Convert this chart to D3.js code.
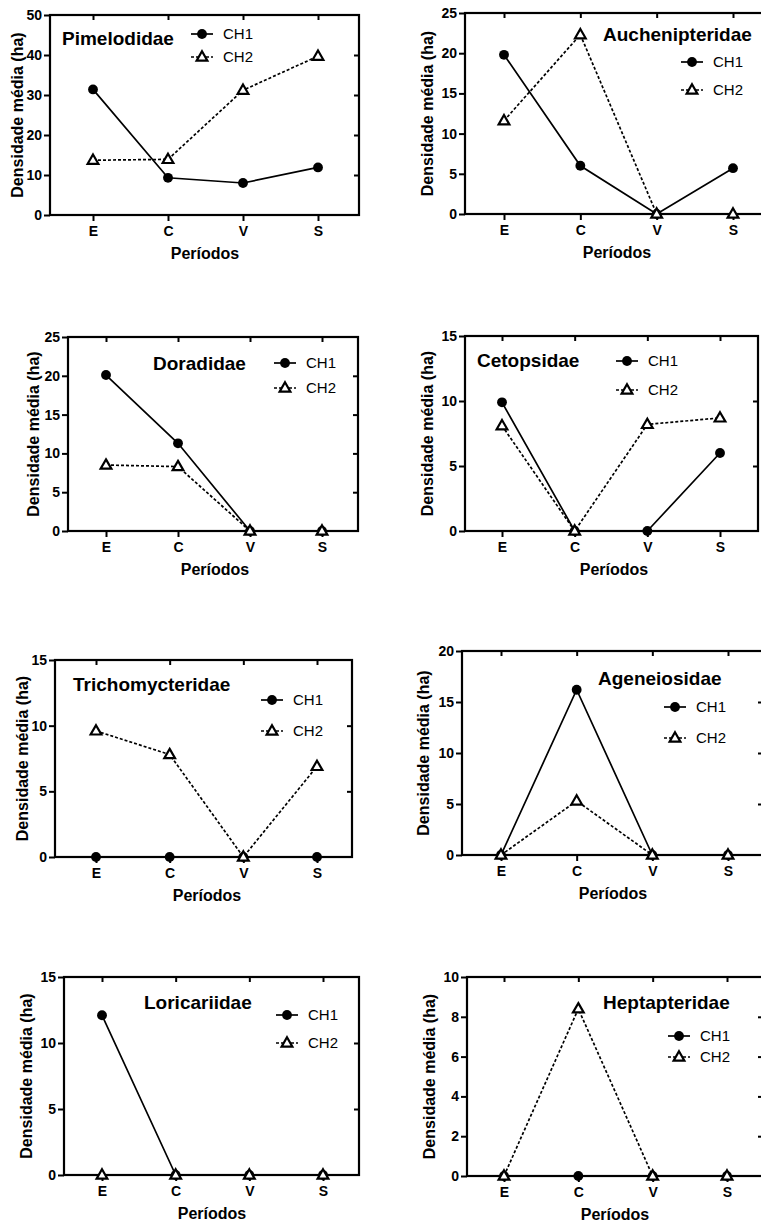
<!DOCTYPE html>
<html>
<head>
<meta charset="utf-8">
<script src="https://cdn.jsdelivr.net/npm/d3@7"></script>
<style>
  html, body { margin: 0; padding: 0; background: #fff; }
  svg { display: block; font-family: "Liberation Sans", Arial, sans-serif; }
</style>
</head>
<body>
<script>
// Mean density (per ha) of catfish families by period, two sampling channels
const periods = ["E", "C", "V", "S"];
const families = ["Pimelodidae", "Auchenipteridae", "Doradidae", "Cetopsidae",
                  "Trichomycteridae", "Ageneiosidae", "Loricariidae", "Heptapteridae"];
const seriesNames = ["CH1", "CH2"];
const ch1 = [
  [31.4, 9.3, 8.0, 11.9],
  [19.8, 6.0, 0, 5.7],
  [20.1, 11.3, 0, 0],
  [9.9, 0, 0, 6.0],
  [0, 0, 0, 0],
  [0, 16.2, 0, 0],
  [12.1, 0, 0, 0],
  [0, 0, 0, 0]
];
const ch2 = [
  [13.7, 13.9, 31.2, 39.7],
  [11.6, 22.3, 0, 0],
  [8.5, 8.3, 0, 0],
  [8.1, 0, 8.2, 8.7],
  [9.6, 7.8, 0, 6.9],
  [0, 5.3, 0, 0],
  [0, 0, 0, 0],
  [0, 8.4, 0, 0]
];
const yMax = [50, 25, 25, 15, 15, 20, 15, 10];
const yStep = [10, 5, 5, 5, 5, 5, 5, 2];
const yTitle = "Densidade média (ha)";
const xTitle = "Períodos";

// Panel geometry: frame edges, first/last category positions, label anchors
const layout = [
  {left: 50,  top: 15,  right: 359, bottom: 215,  e: 93,  s: 318, ylab: 17,  xlab: 205, tx: 62,  ty: 45,   lx: 202, ly1: 34,   ly2: 57},
  {left: 465, top: 13,  right: 776, bottom: 214,  e: 504, s: 733, ylab: 427, xlab: 617, tx: 603, ty: 41,   lx: 692, ly1: 62,   ly2: 90},
  {left: 68,  top: 337, right: 358, bottom: 531,  e: 106, s: 322, ylab: 33,  xlab: 215, tx: 153, ty: 370,  lx: 285, ly1: 363,  ly2: 388},
  {left: 465, top: 336, right: 758, bottom: 531,  e: 502, s: 720, ylab: 427, xlab: 614, tx: 477, ty: 367,  lx: 627, ly1: 361,  ly2: 390},
  {left: 55,  top: 660, right: 352, bottom: 857,  e: 96,  s: 317, ylab: 22,  xlab: 207, tx: 73,  ty: 691,  lx: 272, ly1: 700,  ly2: 731},
  {left: 462, top: 651, right: 763, bottom: 855,  e: 501, s: 728, ylab: 423, xlab: 613, tx: 598, ty: 685,  lx: 675, ly1: 707,  ly2: 738},
  {left: 64,  top: 977, right: 359, bottom: 1175, e: 102, s: 323, ylab: 26,  xlab: 212, tx: 144, ty: 1009, lx: 287, ly1: 1015, ly2: 1043},
  {left: 467, top: 977, right: 763, bottom: 1176, e: 504, s: 727, ylab: 429, xlab: 615, tx: 603, ty: 1009, lx: 679, ly1: 1036, ly2: 1057}
];

const svg = d3.select("body").append("svg").attr("width", 761).attr("height", 1224);

const circleSym = d3.symbol().type(d3.symbolCircle).size(76);
const triSym = d3.symbol().type(d3.symbolTriangle).size(50);
const dash = "3,2";

function drawMarker(sel, k, cx, cy) {
  if (k === 0) {
    sel.append("path").attr("d", circleSym()).attr("transform", `translate(${cx},${cy})`)
      .attr("fill", "#000");
  } else {
    sel.append("path").attr("d", triSym()).attr("transform", `translate(${cx},${cy + 0.5})`)
      .attr("fill", "#fff").attr("stroke", "#000").attr("stroke-width", 2.2);
  }
}

families.forEach((name, i) => {
  const L = layout[i];
  const x = d3.scalePoint().domain(periods).range([L.e, L.s]);
  const y = d3.scaleLinear().domain([0, yMax[i]]).range([L.bottom, L.top]);
  const ticks = d3.range(0, yMax[i] + 1e-9, yStep[i]);
  const g = svg.append("g");

  // frame
  g.append("rect").attr("x", L.left).attr("y", L.top)
    .attr("width", L.right - L.left).attr("height", L.bottom - L.top)
    .attr("fill", "none").attr("stroke", "#000").attr("stroke-width", 2.2);

  // left axis (outward ticks with labels)
  const ay = g.append("g").attr("transform", `translate(${L.left},0)`)
    .call(d3.axisLeft(y).tickValues(ticks).tickSize(6).tickPadding(2).tickSizeOuter(0));
  // bottom axis
  const ax = g.append("g").attr("transform", `translate(0,${L.bottom})`)
    .call(d3.axisBottom(x).tickSize(6).tickPadding(5).tickSizeOuter(0));
  // mirrored inner ticks on right and top
  const ar = g.append("g").attr("transform", `translate(${L.right},0)`)
    .call(d3.axisLeft(y).tickValues(ticks.slice(1, -1)).tickSize(5).tickFormat("").tickSizeOuter(0));
  const at = g.append("g").attr("transform", `translate(0,${L.top})`)
    .call(d3.axisTop(x).tickSize(-5).tickFormat("").tickSizeOuter(0));

  [ay, ax, ar, at].forEach(a => {
    a.select(".domain").remove();
    a.selectAll(".tick line").attr("stroke", "#000").attr("stroke-width", 2);
    a.selectAll(".tick text").attr("fill", "#000")
      .style("font-family", "'Liberation Sans', Arial, sans-serif")
      .style("font-weight", "bold").style("font-size", "14px");
  });

  // axis titles
  g.append("text")
    .attr("transform", `translate(${L.ylab},${(L.top + L.bottom) / 2}) rotate(-90)`)
    .attr("text-anchor", "middle").attr("dominant-baseline", "central")
    .style("font-weight", "bold").style("font-size", "16px").text(yTitle);
  g.append("text").attr("x", L.xlab).attr("y", L.bottom + 44)
    .attr("text-anchor", "middle")
    .style("font-weight", "bold").style("font-size", "16px").text(xTitle);

  // panel title
  g.append("text").attr("x", L.tx).attr("y", L.ty)
    .style("font-weight", "bold").style("font-size", "19px").text(name);

  // series
  const line = d3.line().x(d => x(d.p)).y(d => y(d.v));
  [ch1[i], ch2[i]].forEach((vals, k) => {
    const pts = periods.map((p, j) => ({p, v: vals[j]}));
    g.append("path").datum(pts).attr("d", line)
      .attr("fill", "none").attr("stroke", "#000").attr("stroke-width", 1.7)
      .attr("stroke-dasharray", k === 1 ? dash : null);
  });
  [ch1[i], ch2[i]].forEach((vals, k) => {
    periods.forEach((p, j) => drawMarker(g, k, x(p), y(vals[j])));
  });

  // legend
  [L.ly1, L.ly2].forEach((ly, k) => {
    g.append("line").attr("x1", L.lx - 11).attr("x2", L.lx + 11)
      .attr("y1", ly).attr("y2", ly)
      .attr("stroke", "#000").attr("stroke-width", 1.7)
      .attr("stroke-dasharray", k === 1 ? dash : null);
    drawMarker(g, k, L.lx, ly);
    g.append("text").attr("x", L.lx + 21).attr("y", ly).attr("dy", "0.36em")
      .style("font-size", "15px").text(seriesNames[k]);
  });
});
</script>
</body>
</html>
